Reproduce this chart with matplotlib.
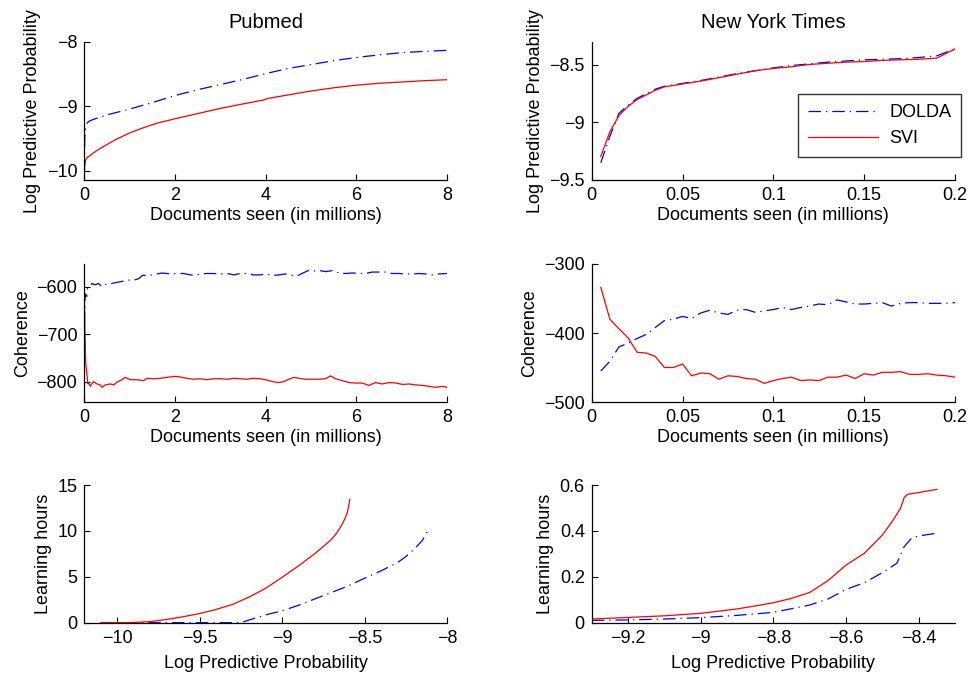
import matplotlib
matplotlib.use("Agg")
import matplotlib.pyplot as plt

plt.rcParams['font.family'] = ['Liberation Sans', 'DejaVu Sans']
plt.rcParams['axes.unicode_minus'] = True

# ---------------- data ----------------
# Pubmed: log predictive probability vs documents seen (millions)
pm_lpp_dolda_x = [0, 0.01, 0.03, 0.06, 0.1, 0.2, 0.5, 1, 1.5, 2, 2.5, 3, 3.5, 4, 4.5, 5, 5.5, 6, 6.5, 7, 7.5, 8]
pm_lpp_dolda_y = [-10.0, -9.5, -9.32, -9.26, -9.23, -9.2, -9.13, -9.04, -8.94, -8.83, -8.74, -8.66, -8.58,
                  -8.49, -8.41, -8.35, -8.29, -8.24, -8.2, -8.165, -8.145, -8.13]
pm_lpp_svi_x = [0, 0.01, 0.03, 0.06, 0.1, 0.2, 0.35, 0.5, 0.7, 1.0, 1.3, 1.6, 2, 2.5, 3, 3.5, 3.95, 4.05,
                4.5, 5, 5.5, 6, 6.5, 7, 7.5, 8]
pm_lpp_svi_y = [-10.07, -9.92, -9.83, -9.79, -9.775, -9.72, -9.65, -9.59, -9.51, -9.41, -9.33, -9.26, -9.19,
                -9.11, -9.03, -8.96, -8.9, -8.875, -8.82, -8.76, -8.71, -8.67, -8.64, -8.62, -8.6, -8.585]

# New York Times: log predictive probability vs documents seen (millions)
nyt_x = [0.005, 0.01, 0.015, 0.02, 0.025, 0.03, 0.035, 0.04, 0.05, 0.06, 0.07, 0.08, 0.09, 0.1,
         0.11, 0.12, 0.13, 0.14, 0.15, 0.16, 0.17, 0.18, 0.19, 0.2]
nyt_lpp_dolda = [-9.35, -9.12, -8.92, -8.85, -8.79, -8.75, -8.71, -8.685, -8.66, -8.635, -8.605, -8.575,
                 -8.55, -8.525, -8.505, -8.49, -8.475, -8.465, -8.455, -8.45, -8.445, -8.435, -8.42, -8.36]
nyt_lpp_svi = [-9.295, -9.08, -8.94, -8.86, -8.8, -8.76, -8.72, -8.69, -8.665, -8.64, -8.61, -8.58,
               -8.55, -8.53, -8.515, -8.495, -8.485, -8.475, -8.47, -8.46, -8.455, -8.45, -8.44, -8.36]

# Pubmed: coherence vs documents seen (millions)
pm_coh_dolda_x = [0, 0.02, 0.05, 0.07, 0.13, 0.17, 0.24, 0.31, 0.39, 0.46, 0.57, 0.65, 0.76, 0.87, 0.98,
                  1.09, 1.2, 1.28, 1.38, 1.49, 1.6, 1.71, 1.82, 1.93, 2.04, 2.19, 2.34, 2.45, 2.55, 2.7,
                  2.85, 3.0, 3.15, 3.3, 3.44, 3.59, 3.73, 3.88, 4.0, 4.15, 4.29, 4.44, 4.59, 4.7, 4.8,
                  4.96, 5.1, 5.2, 5.32, 5.47, 5.62, 5.76, 5.91, 6.06, 6.2, 6.35, 6.5, 6.64, 6.79, 6.94,
                  7.09, 7.24, 7.38, 7.53, 7.68, 7.82, 8.0]
pm_coh_dolda_y = [-680, -615, -621, -603, -599, -593, -596, -593, -600, -595, -594, -592, -590, -588, -586,
                  -586, -583, -576, -576, -575, -573, -571, -572, -573, -572, -572, -575, -576, -573, -572,
                  -572, -573, -572, -575, -572, -572, -575, -575, -573, -576, -575, -573, -576, -577, -572,
                  -565, -567, -566, -568, -566, -571, -572, -571, -572, -572, -569, -569, -569, -572, -572,
                  -573, -573, -572, -573, -575, -573, -572]
pm_coh_svi_x = [0, 0.03, 0.08, 0.1, 0.13, 0.2, 0.28, 0.35, 0.39, 0.46, 0.57, 0.65, 0.72, 0.83, 0.9, 1.01,
                1.16, 1.31, 1.38, 1.53, 1.68, 1.82, 2.0, 2.1, 2.26, 2.4, 2.55, 2.7, 2.85, 3.0, 3.15, 3.3,
                3.44, 3.59, 3.73, 3.88, 4.0, 4.15, 4.29, 4.4, 4.51, 4.62, 4.73, 4.88, 5.03, 5.17, 5.32,
                5.43, 5.54, 5.69, 5.84, 5.98, 6.13, 6.28, 6.42, 6.57, 6.72, 6.87, 7.02, 7.16, 7.31, 7.46,
                7.61, 7.75, 7.9, 8.0]
pm_coh_svi_y = [-625, -760, -805, -803, -810, -800, -805, -807, -812, -807, -805, -807, -801, -796, -791, -796,
                -796, -798, -793, -794, -793, -791, -789, -790, -793, -795, -794, -796, -794, -794, -795, -793,
                -794, -795, -793, -794, -796, -800, -802, -800, -795, -791, -793, -795, -795, -795, -794,
                -788, -794, -798, -802, -803, -803, -808, -802, -805, -802, -803, -806, -805, -807, -808,
                -810, -812, -810, -812]

# New York Times: coherence vs documents seen (millions)
nyt_coh_x = [0.005, 0.01, 0.015, 0.02, 0.025, 0.03, 0.035, 0.04, 0.045, 0.05, 0.055, 0.06, 0.065, 0.07,
             0.075, 0.08, 0.085, 0.09, 0.095, 0.1, 0.105, 0.11, 0.115, 0.12, 0.125, 0.13, 0.135, 0.14,
             0.145, 0.15, 0.155, 0.16, 0.165, 0.17, 0.175, 0.18, 0.185, 0.19, 0.195, 0.2]
nyt_coh_dolda = [-455, -441, -420, -415, -408, -402, -392, -382, -380, -376, -379, -371, -367, -371,
                 -373, -367, -366, -370, -368, -366, -363, -366, -363, -361, -358, -359, -352, -355,
                 -358, -358, -357, -356, -361, -357, -356, -356, -357, -357, -357, -356]
nyt_coh_svi = [-334, -380, -394, -407, -428, -429, -434, -450, -450, -445, -462, -458, -459, -467,
               -462, -463, -466, -467, -473, -469, -466, -464, -469, -468, -469, -464, -464, -461,
               -466, -459, -461, -457, -457, -456, -460, -460, -459, -461, -462, -464]

# Pubmed: learning hours vs log predictive probability
pm_hours_dolda_x = [-10.1, -9.6, -9.25, -9.2, -9.1, -9.0, -8.9, -8.8, -8.7, -8.6, -8.5, -8.4, -8.3,
                    -8.25, -8.2, -8.15, -8.12]
pm_hours_dolda_y = [0, 0, 0, 0.3, 0.85, 1.3, 1.9, 2.6, 3.3, 4.0, 4.85, 5.65, 6.55, 7.2, 8.0, 8.95, 9.9]
pm_hours_svi_x = [-10.1, -10.0, -9.9, -9.8, -9.7, -9.6, -9.5, -9.4, -9.3, -9.2, -9.1, -9.0, -8.9, -8.8,
                  -8.75, -8.7, -8.67, -8.64, -8.62, -8.605, -8.595, -8.59]
pm_hours_svi_y = [0, 0, 0.03, 0.12, 0.36, 0.65, 1.0, 1.45, 2.0, 2.8, 3.75, 4.95, 6.2, 7.55, 8.3, 9.1,
                  9.75, 10.6, 11.3, 12.0, 12.8, 13.4]

# New York Times: learning hours vs log predictive probability
nyt_hours_dolda_x = [-9.3, -9.2, -9.1, -9.0, -8.9, -8.8, -8.7, -8.65, -8.6, -8.55, -8.5, -8.46, -8.45,
                     -8.44, -8.42, -8.4, -8.35]
nyt_hours_dolda_y = [0.01, 0.012, 0.016, 0.022, 0.032, 0.045, 0.077, 0.103, 0.145, 0.174, 0.218, 0.259,
                     0.295, 0.331, 0.368, 0.378, 0.39]
nyt_hours_svi_x = [-9.3, -9.2, -9.1, -9.0, -8.9, -8.85, -8.8, -8.75, -8.7, -8.65, -8.6, -8.55, -8.5,
                   -8.47, -8.45, -8.44, -8.43, -8.4, -8.35]
nyt_hours_svi_y = [0.016, 0.023, 0.03, 0.041, 0.06, 0.073, 0.087, 0.106, 0.132, 0.183, 0.251, 0.302,
                   0.382, 0.448, 0.499, 0.545, 0.56, 0.567, 0.581]

# tick labels
ticks_pm_x = [0, 2, 4, 6, 8]
ticks_nyt_x = [0, 0.05, 0.1, 0.15, 0.2]
labels_nyt_x = ['0', '0.05', '0.1', '0.15', '0.2']
ticks_pm_lpp = [-10, -9, -8]
ticks_nyt_lpp = [-9.5, -9, -8.5]
labels_nyt_lpp = ['\u22129.5', '\u22129', '\u22128.5']
ticks_pm_coh = [-800, -700, -600]
ticks_nyt_coh = [-500, -400, -300]
ticks_pm_hours_x = [-10, -9.5, -9, -8.5, -8]
labels_pm_hours_x = ['\u221210', '\u22129.5', '\u22129', '\u22128.5', '\u22128']
ticks_pm_hours_y = [0, 5, 10, 15]
ticks_nyt_hours_x = [-9.2, -9, -8.8, -8.6, -8.4]
labels_nyt_hours_x = ['\u22129.2', '\u22129', '\u22128.8', '\u22128.6', '\u22128.4']
ticks_nyt_hours_y = [0, 0.2, 0.4, 0.6]
labels_nyt_hours_y = ['0', '0.2', '0.4', '0.6']

series_names = ['DOLDA', 'SVI']

# ---------------- styling ----------------
FS = 13
BLUE = (0, 0, 1)
RED = (1, 0, 0)
DASH = (10.0, 4.0, 1.0, 4.0)
LW = 0.9

fig = plt.figure(figsize=(9.69, 6.75), dpi=100)
W = 969.0
H = 675.0
def add_ax(x0, x1, ytop, ybot):
    return fig.add_axes([x0 / W, (H - ybot) / H, (x1 - x0) / W, (ybot - ytop) / H])

lx0, lx1 = 84.3, 447.0
rx0, rx1 = 591.7, 955.0
rows = [(42, 180), (264, 402), (485, 622.7)]

axes = []
for (yt, yb) in rows:
    axes.append((add_ax(lx0, lx1, yt, yb), add_ax(rx0, rx1, yt, yb)))

def style(ax):
    for s in ['top', 'right']:
        ax.spines[s].set_visible(False)
    for s in ['left', 'bottom']:
        ax.spines[s].set_linewidth(0.9)
    ax.tick_params(direction='in', length=4, width=0.8, labelsize=FS, pad=5)

def fmt(v):
    s = ('%g' % v)
    return s.replace('-', '\u2212')

def set_ticks(ax, xt, yt, xl=None, yl=None):
    ax.set_xticks(xt)
    ax.set_xticklabels(xl if xl is not None else [fmt(v) for v in xt])
    ax.set_yticks(yt)
    ax.set_yticklabels(yl if yl is not None else [fmt(v) for v in yt])

def dolda(ax, x, y, label=None):
    l, = ax.plot(x, y, color=BLUE, lw=LW, label=label)
    l.set_dashes(DASH)
    return l

def svi(ax, x, y, label=None):
    return ax.plot(x, y, color=RED, lw=LW, label=label)[0]

# Row 1
ax = axes[0][0]
style(ax)
dolda(ax, pm_lpp_dolda_x, pm_lpp_dolda_y)
svi(ax, pm_lpp_svi_x, pm_lpp_svi_y)
ax.set_xlim(0, 8)
ax.set_ylim(-10.14, -8)
set_ticks(ax, ticks_pm_x, ticks_pm_lpp)
ax.set_title('Pubmed', fontsize=14.5, pad=10)
ax.set_xlabel('Documents seen (in millions)', fontsize=FS, labelpad=2)
ax.set_ylabel('Log Predictive Probability', fontsize=FS)

ax = axes[0][1]
style(ax)
h1 = dolda(ax, nyt_x, nyt_lpp_dolda, series_names[0])
h2 = svi(ax, nyt_x, nyt_lpp_svi, series_names[1])
ax.set_xlim(0, 0.2)
ax.set_ylim(-9.5, -8.3)
set_ticks(ax, ticks_nyt_x, ticks_nyt_lpp, labels_nyt_x, labels_nyt_lpp)
ax.set_title('New York Times', fontsize=14.5, pad=10)
ax.set_xlabel('Documents seen (in millions)', fontsize=FS, labelpad=2)
ax.set_ylabel('Log Predictive Probability', fontsize=FS)
leg = ax.legend(handles=[h1, h2], loc='upper right', bbox_to_anchor=(1.017, 0.623),
                fontsize=FS, frameon=True, fancybox=False, handlelength=3.9,
                borderpad=0.55, labelspacing=0.5, handletextpad=0.6, borderaxespad=0)
leg.get_frame().set_edgecolor('black')
leg.get_frame().set_linewidth(1.0)

# Row 2
ax = axes[1][0]
style(ax)
dolda(ax, pm_coh_dolda_x, pm_coh_dolda_y)
svi(ax, pm_coh_svi_x, pm_coh_svi_y)
ax.set_xlim(0, 8)
ax.set_ylim(-843, -552)
set_ticks(ax, ticks_pm_x, ticks_pm_coh)
ax.set_xlabel('Documents seen (in millions)', fontsize=FS, labelpad=2)
ax.set_ylabel('Coherence', fontsize=FS)

ax = axes[1][1]
style(ax)
dolda(ax, nyt_coh_x, nyt_coh_dolda)
svi(ax, nyt_coh_x, nyt_coh_svi)
ax.set_xlim(0, 0.2)
ax.set_ylim(-500, -300)
set_ticks(ax, ticks_nyt_x, ticks_nyt_coh, labels_nyt_x)
ax.set_xlabel('Documents seen (in millions)', fontsize=FS, labelpad=2)
ax.set_ylabel('Coherence', fontsize=FS)

# Row 3
ax = axes[2][0]
style(ax)
dolda(ax, pm_hours_dolda_x, pm_hours_dolda_y)
svi(ax, pm_hours_svi_x, pm_hours_svi_y)
ax.set_xlim(-10.2, -8)
ax.set_ylim(0, 15)
set_ticks(ax, ticks_pm_hours_x, ticks_pm_hours_y, labels_pm_hours_x)
ax.set_xlabel('Log Predictive Probability', fontsize=FS, labelpad=6)
ax.set_ylabel('Learning hours', fontsize=FS)

ax = axes[2][1]
style(ax)
dolda(ax, nyt_hours_dolda_x, nyt_hours_dolda_y)
svi(ax, nyt_hours_svi_x, nyt_hours_svi_y)
ax.set_xlim(-9.3, -8.3)
ax.set_ylim(0, 0.6)
set_ticks(ax, ticks_nyt_hours_x, ticks_nyt_hours_y, labels_nyt_hours_x, labels_nyt_hours_y)
ax.set_xlabel('Log Predictive Probability', fontsize=FS, labelpad=6)
ax.set_ylabel('Learning hours', fontsize=FS)

fig.savefig('out.png', dpi=100)
